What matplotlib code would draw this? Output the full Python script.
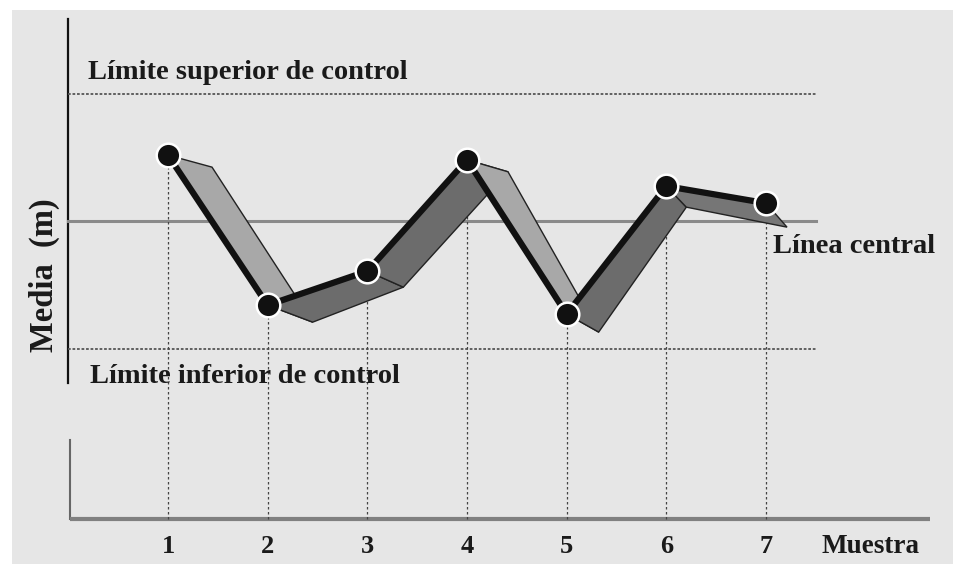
import matplotlib
matplotlib.use("Agg")
import matplotlib.pyplot as plt
from matplotlib.patches import Polygon, Rectangle

# sample numbers and sample means (arbitrary units, centre line = 10)
samples = [1, 2, 3, 4, 5, 6, 7]
means = [11.55, 8.02, 8.82, 11.44, 7.81, 10.82, 10.42]
center = 10
ucl = 13
lcl = 7
baseline = 3

tick_labels = ["1", "2", "3", "4", "5", "6", "7"]

# 3D ribbon depth per point, in pixels (dx right, dy down)
depth_px = [(44, 12), (45, 17), (36, 16), (41, 12), (32, 18), (20, 21), (21, 24)]
face_colors = ["#a8a8a8", "#6c6c6c", "#6c6c6c", "#a8a8a8", "#6c6c6c", "#767676"]

px_x = 99.67   # pixels per sample
px_y = 42.5    # pixels per unit

fig = plt.figure(figsize=(9.54, 5.64), dpi=100)
fig.patch.set_facecolor("white")

ax = fig.add_axes([0, 0, 1, 1])
ax.set_facecolor("none")
ax.set_xlim(-0.6856, 8.886)
ax.set_ylim(1.93, 15.2)
ax.axis("off")
ax.add_patch(Rectangle((12 / 954, 0), 1, 1 - 10 / 564, transform=ax.transAxes,
                       facecolor="#e6e6e6", edgecolor="none", zorder=0))

font = dict(family="Liberation Serif", fontweight="bold", color="#1a1a1a")

# axes lines
ax.plot([0, 0], [6.2, 14.75], color="#111111", lw=1.6, zorder=2)
ax.plot([0.02, 0.02], [3, 4.85], color="#666666", lw=1.5, zorder=2)
ax.plot([0.02, 8.65], [baseline, baseline], color="#808080", lw=3, zorder=2,
        solid_capstyle="butt")

# control lines
ax.plot([0, 7.5], [ucl, ucl], color="#555555", lw=1.3, ls=(0, (1.5, 1)), zorder=2)
ax.plot([0, 7.5], [center, center], color="#8a8a8a", lw=2.2, zorder=2)
ax.plot([0, 7.5], [lcl, lcl], color="#555555", lw=1.3, ls=(0, (1.5, 1)), zorder=2)

# vertical drop lines
for x, y in zip(samples, means):
    ax.plot([x, x], [baseline, y], color="#444444", lw=0.9, ls=(0, (2, 2)), zorder=3)

# ribbon
offs = [(dx / px_x, -dy / px_y) for dx, dy in depth_px]
for i in range(len(samples) - 1):
    x0, y0 = samples[i], means[i]
    x1, y1 = samples[i + 1], means[i + 1]
    quad = [(x0, y0), (x1, y1),
            (x1 + offs[i + 1][0], y1 + offs[i + 1][1]),
            (x0 + offs[i][0], y0 + offs[i][1])]
    ax.add_patch(Polygon(quad, closed=True, facecolor=face_colors[i],
                         edgecolor="#222222", lw=1.0, zorder=4 + i * 0.1))
    ax.plot([x0, x1], [y0, y1], color="#111111", lw=4.5, zorder=4 + i * 0.1 + 0.05,
            solid_capstyle="round")

# points
ax.plot(samples, means, "o", ms=17, mfc="#111111", mec="white", mew=1.8, zorder=6)

# labels
ax.text(0.197, 13.5, "Límite superior de control", fontsize=20.5, ha="left", va="center", **font)
ax.text(7.07, 9.39, "Línea central", fontsize=20.5, ha="left", va="center", **font)
ax.text(0.217, 6.33, "Límite inferior de control", fontsize=20.5, ha="left", va="center", **font)
ax.text(-0.24, 8.72, "Media  (m)", fontsize=23.5, rotation=90, ha="center", va="center", **font)

for x, lab in zip(samples, tick_labels):
    ax.text(x, 2.33, lab, fontsize=19, ha="center", va="center", **font)
ax.text(8.05, 2.33, "Muestra", fontsize=19.5, ha="center", va="center", **font)

fig.savefig("out.png", dpi=100)
